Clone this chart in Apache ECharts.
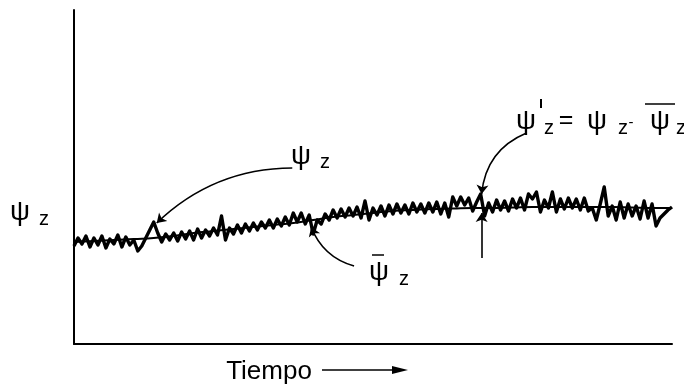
<!DOCTYPE html>
<html>
<head>
<meta charset="utf-8">
<script src="https://cdn.jsdelivr.net/npm/echarts@6/dist/echarts.min.js"></script>
<style>
  html, body { margin: 0; padding: 0; background: #fff; }
  #echarts { width: 684px; height: 386px; }
</style>
</head>
<body>
<div id="echarts"></div>
<script>
// señal instantánea psi_z, una muestra cada 2 unidades de tiempo
var pasoSenal = 2;
var senal = [
    98, 106, 100, 108, 97, 106, 99, 108, 96, 105,
    100, 109, 97, 107, 99, 104, 93, 98, 106, 114,
    122, 111, 102, 110, 104, 111, 103, 112, 105, 113,
    104, 115, 106, 114, 108, 116, 109, 128, 104, 116,
    110, 119, 111, 120, 113, 121, 114, 122, 116, 124,
    116, 125, 118, 127, 119, 131, 122, 131, 120, 129,
    110, 124, 120, 130, 124, 134, 126, 135, 127, 136,
    128, 137, 126, 143, 124, 136, 129, 138, 128, 139,
    130, 140, 131, 139, 130, 141, 132, 140, 131, 141,
    132, 142, 130, 141, 127, 147, 138, 147, 139, 146,
    133, 142, 150, 128, 141, 132, 144, 134, 143, 133,
    145, 136, 146, 134, 150, 145, 152, 132, 144, 136,
    152, 132, 145, 135, 146, 136, 145, 134, 146, 133,
    136, 124, 140, 157, 128, 138, 124, 142, 126, 140,
    128, 138, 125, 143, 126, 140, 118, 126, 130, 134,
    137
];

// media psi_z barra, una muestra cada 10 unidades
var pasoMedia = 10;
var media = [
    102, 103, 104, 105, 106, 108, 111, 113, 115, 117,
    119, 121, 124, 127, 129, 131, 133, 134, 135, 135.5,
    136, 136, 136.5, 137, 137, 137, 137, 137, 136.5, 136,
    136
];

// flechas de anotación [desde, hasta] en coordenadas de datos
var flechas = [
    { coords: [[109.5, 176], [41.5, 121]], curv: -0.2 },
    { coords: [[140.5, 78], [119, 117]], curv: 0.25 },
    { coords: [[227, 211], [204.5, 150]], curv: -0.3 },
    { coords: [[204.5, 86], [204.5, 131]], curv: 0 }
];

var datosSenal = senal.map(function (v, i) { return [i * pasoSenal, v]; });
var datosMedia = media.map(function (v, i) { return [i * pasoMedia, v]; });

var fuente = 'Liberation Sans, Arial, sans-serif';
function texto(x, y, s, tam, fam) {
    return {
        type: 'text', x: x, y: y,
        style: { text: s, fill: '#000', font: tam + 'px ' + (fam || fuente), textAlign: 'center', textVerticalAlign: 'middle' }
    };
}
function psi(x, y) { return texto(x, y, 'ψ', 28); }
function zeta(x, y) { return texto(x, y, 'z', 20); }

var myChart = echarts.init(document.getElementById('echarts'));
option = {
    animation: false,
    grid: { left: 74, right: 12, top: 10, bottom: 42 },
    xAxis: {
        type: 'value', min: 0, max: 300,
        axisLine: { show: true, lineStyle: { color: '#000', width: 2 } },
        axisTick: { show: false }, axisLabel: { show: false }, splitLine: { show: false }
    },
    yAxis: {
        type: 'value', min: 0, max: 334,
        axisLine: { show: true, lineStyle: { color: '#000', width: 2 } },
        axisTick: { show: false }, axisLabel: { show: false }, splitLine: { show: false }
    },
    series: [
        {
            type: 'line', data: datosMedia, smooth: true, showSymbol: false,
            lineStyle: { color: '#000', width: 2 }
        },
        {
            type: 'line', data: datosSenal, showSymbol: false,
            lineStyle: { color: '#000', width: 3.4, join: 'round' }
        },
        {
            type: 'lines', coordinateSystem: 'cartesian2d',
            symbol: ['none', 'arrow'], symbolSize: 9,
            data: flechas.map(function (f) {
                return { coords: f.coords, lineStyle: { curveness: f.curv } };
            }),
            lineStyle: { color: '#000', width: 1.6, opacity: 1 }
        }
    ],
    graphic: [
        // etiqueta eje y
        psi(20, 212), zeta(44, 219),
        // psi_z
        psi(301, 156), zeta(325, 162),
        // psi_z barra
        psi(379, 272), zeta(404, 279),
        { type: 'line', shape: { x1: 372, y1: 255, x2: 384, y2: 255 }, style: { stroke: '#000', lineWidth: 1.5 } },
        // psi'_z = psi_z - psi_z barra
        psi(526, 121),
        { type: 'line', shape: { x1: 541, y1: 99, x2: 541, y2: 108 }, style: { stroke: '#000', lineWidth: 2 } },
        zeta(549, 128), texto(566, 121, '=', 25),
        psi(597, 121), zeta(623, 128), texto(631, 123, '-', 15),
        psi(660, 121), zeta(681, 128),
        { type: 'line', shape: { x1: 645, y1: 104, x2: 675, y2: 104 }, style: { stroke: '#000', lineWidth: 1.5 } },
        // Tiempo
        texto(269, 372, 'Tiempo', 26),
        { type: 'line', shape: { x1: 322, y1: 370, x2: 396, y2: 370 }, style: { stroke: '#000', lineWidth: 1.5 } },
        { type: 'polygon', shape: { points: [[392, 366], [408, 370], [392, 374]] }, style: { fill: '#000' } }
    ]
};
myChart.setOption(option);
</script>
</body>
</html>
